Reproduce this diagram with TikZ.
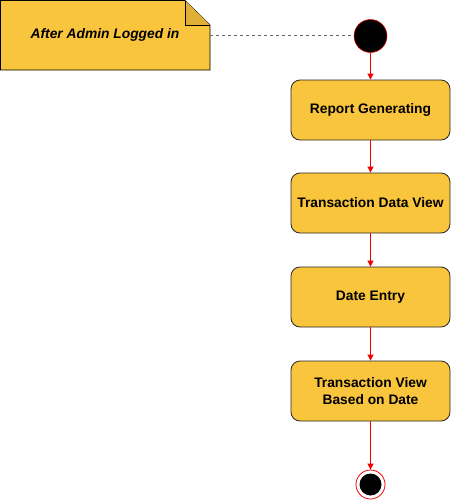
\documentclass[tikz,border=0pt]{standalone}
\usepackage{fontspec}
\setmainfont{Liberation Sans}
\usetikzlibrary{arrows.meta}
\definecolor{boxfill}{HTML}{F9C53C}
\definecolor{folddark}{HTML}{E0B036}
\definecolor{arrowred}{HTML}{F00000}
\tikzset{
  actbox/.style={draw=black!85, fill=boxfill, rounded corners=9pt, minimum width=159pt, minimum height=60pt, align=center, font=\fontsize{13.8}{17}\selectfont\bfseries, line width=0.8pt},
  flow/.style={draw=arrowred, line width=0.8pt, -{Triangle[width=6pt,length=6pt]}},
}
\begin{document}
\begin{tikzpicture}[x=1pt,y=-1pt]
\useasboundingbox (0,0) rectangle (451,501);
% note
\draw[fill=boxfill, line width=0.8pt] (0.5,0.5) -- (185,0.5) -- (210,25) -- (210,70) -- (0.5,70) -- cycle;
\draw[fill=folddark, line width=0.8pt] (185,0.5) -- (185,25) -- (210,25);
\node[font=\fontsize{13.8}{17}\selectfont\bfseries\itshape] (note) at (105,35) {After Admin Logged in};
\coordinate (noteR) at (210,35);
% initial
\node[circle, fill=black, draw=arrowred, line width=0.5pt, minimum size=33pt, inner sep=0] (start) at (370.5,36) {};
\draw[black!60, dashed, line width=0.9pt, dash pattern=on 3pt off 3pt] (noteR) -- (start.west |- noteR);
% boxes
\node[actbox] (b1) at (370.5,110) {Report Generating};
\node[actbox] (b2) at (370.5,203) {Transaction Data View};
\node[actbox] (b3) at (370.5,297) {Date Entry};
\node[actbox] (b4) at (370.5,391) {Transaction View\\Based on Date};
% final
\node[circle, draw=arrowred, fill=white, line width=0.8pt, minimum size=29pt, inner sep=0] (end) at (370.5,484.5) {};
\node[circle, fill=black, minimum size=22pt, inner sep=0] (endin) at (end) {};
% flows
\draw[flow] (start) -- (b1);
\draw[flow] (b1) -- (b2);
\draw[flow] (b2) -- (b3);
\draw[flow] (b3) -- (b4);
\draw[flow] (b4) -- (end);
\end{tikzpicture}
\end{document}
